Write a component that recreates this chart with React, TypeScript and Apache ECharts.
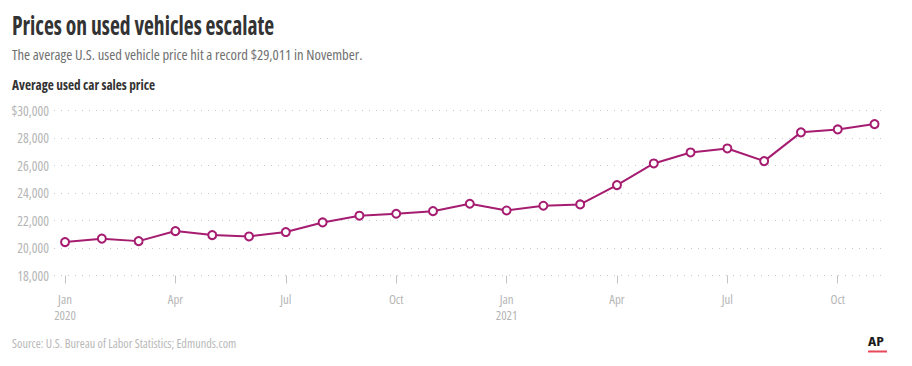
import React, { useEffect, useRef } from "react";
import * as echarts from "echarts";

const monthLabels = [
  "Jan\n2020", "Feb", "Mar", "Apr", "May", "Jun", "Jul", "Aug", "Sep", "Oct", "Nov", "Dec",
  "Jan\n2021", "Feb", "Mar", "Apr", "May", "Jun", "Jul", "Aug", "Sep", "Oct", "Nov",
];
const prices = [
  20430, 20680, 20500, 21230, 20940, 20840, 21160, 21860, 22350, 22490, 22680, 23220,
  22730, 23075, 23170, 24575, 26150, 26950, 27240, 26320, 28410, 28625, 29011,
];
const tickIndices = [0, 3, 6, 9, 12, 15, 18, 21];
const yMin = 18000;
const yMax = 30000;
const yStep = 2000;

const FONT = "'Open Sans', 'Roboto Condensed', sans-serif";

export default function App() {
  const ref = useRef<HTMLDivElement>(null);
  useEffect(() => {
    if (!ref.current) return;
    const chart = echarts.init(ref.current, undefined, { renderer: "svg" });
    const txt = (
      text: string,
      x: number,
      y: number,
      size: number,
      weight: string,
      fill: string,
      scaleX: number
    ) => ({
      type: "text",
      x,
      y,
      scaleX,
      style: {
        text,
        fontFamily: FONT,
        fontSize: size,
        fontWeight: weight,
        fill,
        textVerticalAlign: "middle",
        textAlign: "left",
      },
    });
    chart.setOption({
      animation: false,
      backgroundColor: "#fff",
      textStyle: { fontFamily: FONT },
      graphic: [
        txt("Prices on used vehicles escalate", 12, 24.7, 27, "bold", "#333", 0.8),
        txt("The average U.S. used vehicle price hit a record $29,011 in November.", 12, 53.5, 14.7, "normal", "#707070", 0.995),
        txt("Average used car sales price", 12, 84, 14, "bold", "#333", 0.95),
        txt("Source: U.S. Bureau of Labor Statistics; Edmunds.com", 12, 343.8, 12.6, "normal", "#b8b8b8", 0.97),
        txt("AP", 868, 341.5, 13, "bold", "#1a1a1a", 1.2),
        {
          type: "rect",
          x: 868,
          y: 350.5,
          shape: { width: 19, height: 2 },
          style: { fill: "#e8495a" },
        },
      ],
      grid: { left: 54, right: 29, top: 110.5, bottom: 90.5, containLabel: false, outerBoundsMode: "none" },
      xAxis: {
        type: "value",
        min: -0.3,
        max: 22.23,
        axisLine: { show: false },
        splitLine: { show: false },
        axisTick: {
          show: true,
          length: 8,
          customValues: tickIndices,
          lineStyle: { color: "#c4c4c4", width: 1 },
        },
        axisLabel: {
          customValues: tickIndices,
          formatter: (v: number) => monthLabels[Math.round(v)] ?? "",
          color: "#b5b5b5",
          fontFamily: FONT,
          fontSize: 12.8,
          lineHeight: 16,
          margin: 15,
        },
      },
      yAxis: {
        type: "value",
        min: yMin,
        max: yMax,
        interval: yStep,
        axisLine: { show: false },
        axisTick: { show: false },
        axisLabel: {
          color: "#b5b5b5",
          fontFamily: FONT,
          fontSize: 13.5,
          margin: 5,
          formatter: (v: number) => (v === yMax ? "$" : "") + v.toLocaleString("en-US"),
        },
        splitLine: {
          show: true,
          lineStyle: { color: "#c8c8c8", width: 1, type: [1, 6] },
        },
      },
      series: [
        {
          type: "line",
          data: prices.map((p, i) => [i, p]),
          symbol: "circle",
          symbolSize: 8,
          showSymbol: true,
          lineStyle: { color: "#a51c70", width: 2 },
          itemStyle: { color: "#fff", borderColor: "#a51c70", borderWidth: 2 },
        },
      ],
    });
    return () => chart.dispose();
  }, []);
  return (
    <div style={{ position: "absolute", left: 0, top: 0, width: 912, height: 366 }}>
      <style>{"#chartbox text { font-stretch: 75%; }"}</style>
      <div id="chartbox" ref={ref} style={{ width: 912, height: 366 }} />
    </div>
  );
}
